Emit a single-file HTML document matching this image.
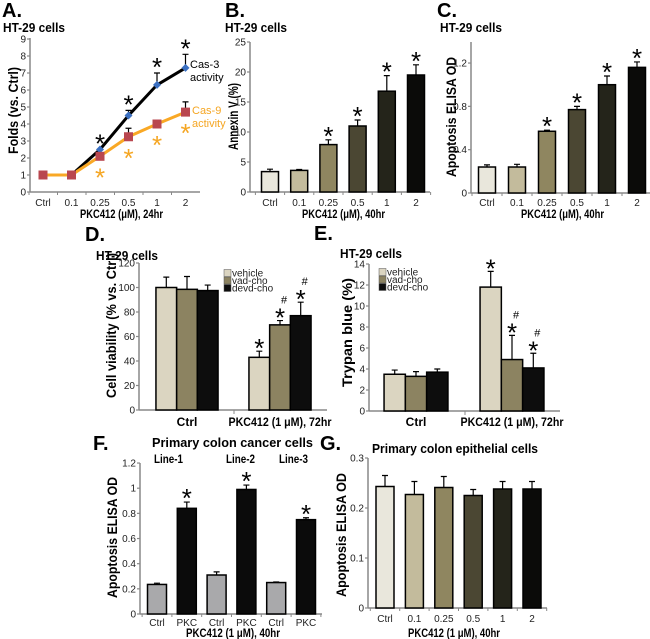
<!DOCTYPE html>
<html><head><meta charset="utf-8"><style>
html,body{margin:0;padding:0;background:#fff}
svg{display:block;font-family:"Liberation Sans",Arial,sans-serif}
.lt{font-weight:bold;font-size:20px}
.ct{font-weight:bold;font-size:13px}
.at{font-weight:bold;font-size:14px}
.xt{font-weight:bold;font-size:12px}
</style></head><body>
<svg id="fig" width="650" height="639" viewBox="0 0 650 639" xmlns="http://www.w3.org/2000/svg">
<text class="lt" x="2" y="17">A.</text>
<text class="lt" x="225" y="17">B.</text>
<text class="lt" x="437" y="17">C.</text>
<text class="lt" x="85" y="241">D.</text>
<text class="lt" x="314" y="240">E.</text>
<text class="lt" x="93" y="450">F.</text>
<text class="lt" x="320" y="450">G.</text>
<text class="ct" x="3" y="32" textLength="62" lengthAdjust="spacingAndGlyphs">HT-29 cells</text>
<text class="ct" x="225" y="32" textLength="62" lengthAdjust="spacingAndGlyphs">HT-29 cells</text>
<text class="ct" x="440" y="32" textLength="62" lengthAdjust="spacingAndGlyphs">HT-29 cells</text>
<text class="ct" x="96" y="260" textLength="62" lengthAdjust="spacingAndGlyphs">HT-29 cells</text>
<text class="ct" x="340" y="258" textLength="62" lengthAdjust="spacingAndGlyphs">HT-29 cells</text>
<text class="ct" x="152" y="447" textLength="161" lengthAdjust="spacingAndGlyphs">Primary colon cancer cells</text>
<text class="ct" x="372" y="453" textLength="166" lengthAdjust="spacingAndGlyphs">Primary colon epithelial cells</text>
<text class="at" x="-154" y="18" transform="rotate(-90)" textLength="87" lengthAdjust="spacingAndGlyphs">Folds (vs. Ctrl)</text>
<text class="at" x="-150" y="238" transform="rotate(-90)" textLength="67" lengthAdjust="spacingAndGlyphs">Annexin V (%)</text>
<text class="at" x="-177" y="456" transform="rotate(-90)" textLength="120" lengthAdjust="spacingAndGlyphs">Apoptosis ELISA OD</text>
<text class="at" x="-398" y="116" transform="rotate(-90)" textLength="145" lengthAdjust="spacingAndGlyphs">Cell viability (% vs. Ctrl)</text>
<text class="at" x="-387" y="352" transform="rotate(-90)" textLength="109" lengthAdjust="spacingAndGlyphs">Trypan blue (%)</text>
<text class="at" x="-598" y="117" transform="rotate(-90)" textLength="121" lengthAdjust="spacingAndGlyphs">Apoptosis ELISA OD</text>
<text class="at" x="-597" y="346" transform="rotate(-90)" textLength="124" lengthAdjust="spacingAndGlyphs">Apoptosis ELISA OD</text>
<text class="xt" x="80" y="218" textLength="83" lengthAdjust="spacingAndGlyphs">PKC412 (μM), 24hr</text>
<text class="xt" x="302" y="218" textLength="83" lengthAdjust="spacingAndGlyphs">PKC412 (μM), 40hr</text>
<text class="xt" x="521" y="218" textLength="83" lengthAdjust="spacingAndGlyphs">PKC412 (μM), 40hr</text>
<text class="xt" x="186" y="637" textLength="94" lengthAdjust="spacingAndGlyphs">PKC412 (1 μM), 40hr</text>
<text class="xt" x="408" y="637" textLength="92" lengthAdjust="spacingAndGlyphs">PKC412 (1 μM), 40hr</text>
<text x="190" y="68" font-size="11">Cas-3</text>
<text x="190" y="81" font-size="11">activity</text>
<text x="192" y="114" font-size="11" fill="#f5a623">Cas-9</text>
<text x="192" y="127" font-size="11" fill="#f5a623">activity</text>
<text class="xt" x="154" y="463" textLength="29" lengthAdjust="spacingAndGlyphs">Line-1</text>
<text class="xt" x="226" y="463" textLength="29" lengthAdjust="spacingAndGlyphs">Line-2</text>
<text class="xt" x="279" y="463" textLength="29" lengthAdjust="spacingAndGlyphs">Line-3</text>
</svg>
<script>
// ---- data ----
const aCats=['Ctrl','0.1','0.25','0.5','1','2'];
const aCas3=[1,1,2.5,4.5,6.3,7.3];
const aCas3Err=[0,0,0,0.3,0.7,0.8];
const aCas9=[1,1,2.1,3.25,4.0,4.7];
const aCas9Err=[0,0,0,0.5,0.15,0.6];
const aTicks=[0,1,2,3,4,5,6,7,8,9];
const bCats=['Ctrl','0.1','0.25','0.5','1','2'];
const bVals=[3.4,3.6,7.9,11,16.8,19.5];
const bErr=[0.4,0.15,0.8,1.0,2.6,1.7];
const bStars=[0,0,1,1,1,1];
const bTicks=[0,5,10,15,20,25];
const cCats=['Ctrl','0.1','0.25','0.5','1','2'];
const cVals=[0.24,0.24,0.57,0.77,1.0,1.16];
const cErr=[0.02,0.025,0.01,0.03,0.08,0.05];
const cStars=[0,0,1,1,1,1];
const cTicks=[0,0.4,0.8,1.2];
const dGroups=['Ctrl','PKC412 (1 μM), 72hr'];
const dSeries=['vehicle','vad-cho','devd-cho'];
const dVals=[[100,98.5,97.5],[43,69.5,77]];
const dErr=[[8.5,10.5,4.5],[5,3.5,11]];
const dStars=[[0,0,0],[1,1,1]];
const dHash=[[0,0,0],[0,1,1]];
const dTicks=[0,20,40,60,80,100,120];
const eGroups=['Ctrl','PKC412 (1 μM), 72hr'];
const eVals=[[3.5,3.3,3.7],[11.8,4.9,4.1]];
const eErr=[[0.4,0.45,0.3],[1.5,2.3,1.4]];
const eStars=[[0,0,0],[1,1,1]];
const eHash=[[0,0,0],[0,1,1]];
const eTicks=[0,2,4,6,8,10,12,14];
const fCats=['Ctrl','PKC','Ctrl','PKC','Ctrl','PKC'];
const fVals=[0.235,0.84,0.31,0.99,0.25,0.75];
const fErr=[0.01,0.05,0.025,0.035,0.005,0.015];
const fStars=[0,1,0,1,0,1];
const fTicks=[0,0.2,0.4,0.6,0.8,1,1.2];
const gCats=['Ctrl','0.1','0.25','0.5','1','2'];
const gVals=[0.243,0.227,0.241,0.225,0.238,0.238];
const gErr=[0.022,0.026,0.022,0.012,0.015,0.015];
const gTicks=[0,0.1,0.2,0.3];

const NS='http://www.w3.org/2000/svg';
const svg=document.getElementById('fig');
function mk(tag,attrs){const e=document.createElementNS(NS,tag);for(const k in attrs)e.setAttribute(k,attrs[k]);svg.appendChild(e);return e;}
function tx(x,y,s,attrs){const e=mk('text',Object.assign({x:x,y:y},attrs||{}));e.textContent=s;return e;}
function yAxis(p,ticks,fs){
  let ax=mk('line',{x1:p.x,x2:p.x,y1:p.y0,y2:p.top,stroke:'#888','stroke-width':1.5});
  
  
  ticks.forEach(t=>{const y=p.y(t);
    let tk=mk('line',{x1:p.x-3,x2:p.x,y1:y,y2:y,stroke:'#888','stroke-width':1.2});
    
    
    let l=tx(p.x-4,y+3.5,String(t),{'font-size':fs||10,'text-anchor':'end',fill:'#222'});
    
    });
  let xa=mk('line',{x1:p.x,x2:p.right,y1:p.y0,y2:p.y0,stroke:'#888','stroke-width':1.5});
  
  
}
function err(x,y1,y2,n){
  if(y1-y2<0.5)return;
  let e=mk('path',{d:`M${x},${y1}V${y2}M${x-3},${y2}H${x+3}`,stroke:'#000','stroke-width':1.2,fill:'none'});
  
  
}
function star(x,cy,col,n){
  let s=tx(x,cy+13,'*',{'font-size':26,'text-anchor':'middle',fill:col||'#000'});
  
  
}
function hash(x,cy,n){
  let s=tx(x+4,cy+4,'#',{'font-size':11,'text-anchor':'middle'});
  
  
}
function bars(p,cats,vals,errs,cols,stars,w,fs,ly){
  cats.forEach((c,i)=>{const cx=p.cx(i);
    let tk=mk('line',{x1:cx+p.step/2,x2:cx+p.step/2,y1:p.y0,y2:p.y0+3,stroke:'#888'});
    
    
    if(i===0){let t0=mk('line',{x1:cx-p.step/2,x2:cx-p.step/2,y1:p.y0,y2:p.y0+3,stroke:'#888'});
      
      }
    const yt=p.y(vals[i]);
    let r=mk('rect',{x:cx-w/2,y:yt,width:w,height:p.y0-yt,fill:cols[i],stroke:'#000','stroke-width':1.5});
    
    
    const ye=p.y(vals[i]+errs[i]);
    err(cx,yt,ye,p.n);
    if(stars&&stars[i])star(cx,ye-8,'#000',p.n);
    let l=tx(cx,ly,c,{'font-size':fs,'text-anchor':'middle',fill:'#222'});
    
    
  });
}
const ramp=['#e9e7dc','#c3bb9c','#8f8660','#4b4733','#24241a','#0b0b09'];

// Panel A
(function(){
  const p={n:'a',x:30,y0:192,top:38,right:200,y:v=>192-v*17,cx:i=>43+i*28.5,step:28.5};
  yAxis(p,aTicks,10);
  aCats.forEach((c,i)=>{
    let tk=mk('line',{x1:p.cx(i)-14,x2:p.cx(i)-14,y1:192,y2:195,stroke:'#888'});
    
    
    let l=tx(p.cx(i),206,c,{'font-size':10,'text-anchor':'middle',fill:'#222'});
    
    });
  let d3=aCas3.map((v,i)=>(i?'L':'M')+p.cx(i)+','+p.y(v)).join('');
  let d9=aCas9.map((v,i)=>(i?'L':'M')+p.cx(i)+','+p.y(v)).join('');
  aCas3.forEach((v,i)=>err(p.cx(i),p.y(v),p.y(v+aCas3Err[i]),'a-cas3'));
  aCas9.forEach((v,i)=>err(p.cx(i),p.y(v),p.y(v+aCas9Err[i]),'a-cas9'));
  let l3=mk('path',{d:d3,stroke:'#000','stroke-width':3,fill:'none'});
  
  
  let l9=mk('path',{d:d9,stroke:'#f9a825','stroke-width':3,fill:'none'});
  
  
  aCas3.forEach((v,i)=>{const x=p.cx(i),y=p.y(v);
    if(i<2)return;
    let m=mk('path',{d:`M${x},${y-4}L${x+4},${y}L${x},${y+4}L${x-4},${y}Z`,fill:'#3b70c2'});
    
    
    star(x,p.y(v+aCas3Err[i])-10,'#000','a-cas3');});
  aCas9.forEach((v,i)=>{const x=p.cx(i),y=p.y(v);
    let m=mk('rect',{x:x-4.5,y:y-4.5,width:9,height:9,fill:'#b9474f'});
    
    
    if(i>=2)star(x,y+17,'#f5a623','a-cas9');});
})();
// Panel B
(function(){
  const p={n:'b',x:250,y0:192,top:42,right:430,y:v=>192-v*6,cx:i=>270+i*29.2,step:29.2};
  yAxis(p,bTicks,10);
  bars(p,bCats,bVals,bErr,ramp,bStars,17,10,206);
})();
// Panel C
(function(){
  const p={n:'c',x:471,y0:193,top:42,right:650,y:v=>193-v*108.3,cx:i=>487+i*30,step:30};
  yAxis(p,cTicks,10);
  bars(p,cCats,cVals,cErr,ramp,cStars,17,10,206);
})();
// grouped panels D,E
function grouped(p,groups,vals,errs,stars,hashes,ticks){
  yAxis(p,ticks,10);
  const cols=['#dbd5c1','#8c8361','#0d0d0d'];
  groups.forEach((g,gi)=>{const gc=p.gc[gi];
    vals[gi].forEach((v,si)=>{const cx=gc+(si-1)*p.w;const yt=p.y(v);
      let r=mk('rect',{x:cx-p.w/2,y:yt,width:p.w,height:p.y0-yt,fill:cols[si],stroke:'#000','stroke-width':1.5});
      
      
      const ye=p.y(v+errs[gi][si]);
      err(cx,yt,ye,p.n);
      if(stars[gi][si]){star(cx,ye-7,'#000',p.n);if(hashes[gi][si])hash(cx,ye-21,p.n);}
    });
    let l=tx(gc,426,g,{'font-size':12,'font-weight':'bold','text-anchor':'middle'});
    if(gi===1){l.setAttribute('textLength','103');l.setAttribute('lengthAdjust','spacingAndGlyphs');}
    
    
  });
  let mt=mk('line',{x1:p.mid,x2:p.mid,y1:p.y0,y2:p.y0+4,stroke:'#888'});
  
  
  dSeries.forEach((s,si)=>{const y=p.ly+si*7.5;
    let sw=mk('rect',{x:p.lx,y:y-3.5,width:7,height:7,fill:cols[si],stroke:'#555','stroke-width':0.5});
    
    
    let t=tx(p.lx+8,y+3.5,s,{'font-size':10,fill:'#222'});
    
    });
}
grouped({n:'d',x:139,y0:410,top:263,right:327,y:v=>410-v*1.225,gc:[187,280],w:20.7,mid:234,lx:224,ly:273},dGroups,dVals,dErr,dStars,dHash,dTicks);
grouped({n:'e',x:369,y0:411,top:264,right:560,y:v=>411-v*10.5,gc:[416,512],w:21.3,mid:465,lx:379,ly:272},eGroups,eVals,eErr,eStars,eHash,eTicks);
// Panel F
(function(){
  const p={n:'f',x:140,y0:614,top:463,right:322,y:v=>614-v*125.8,cx:i=>157+i*29.8,step:29.8};
  yAxis(p,fTicks,10);
  bars(p,fCats,fVals,fErr,fCats.map(c=>c==='Ctrl'?'#a9a9ab':'#0b0b0b'),fStars,19,10,626);
})();
// Panel G
(function(){
  const p={n:'g',x:368,y0:608,top:458,right:547,y:v=>608-v*500,cx:i=>385+i*29.4,step:29.4};
  yAxis(p,gTicks,10);
  bars(p,gCats,gVals,gErr,ramp,null,18,10,622);
})();
</script>
</body></html>
